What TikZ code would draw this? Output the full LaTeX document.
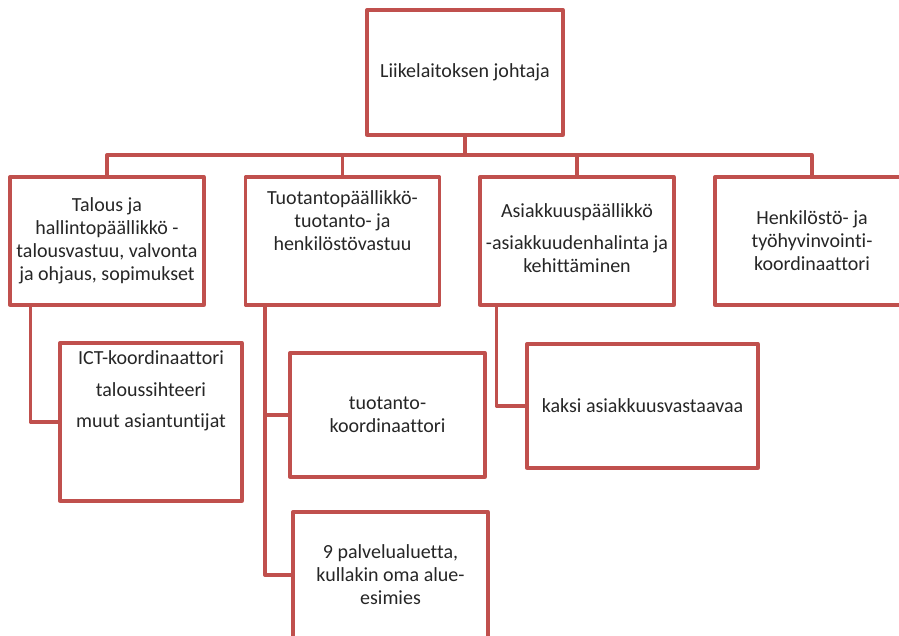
\documentclass[tikz,border=0pt]{standalone}
\usepackage{fontspec}
\setmainfont[Ligatures=NoCommon]{Carlito}
\definecolor{boxred}{RGB}{192,80,77}
\definecolor{txt}{RGB}{38,38,38}
\begin{document}
\begin{tikzpicture}[x=1pt,y=-1pt,
  box/.style={draw=boxred,line width=3.3pt,fill=white,rectangle,inner sep=0pt,
    line join=round,align=center,text=txt,font=\fontsize{20}{23}\selectfont},
  lbl/.style={inner sep=0pt,align=center,text=txt,font=\fontsize{20}{23}\selectfont},
  conn/.style={draw=boxred,line width=3.3pt,line join=round}]
\useasboundingbox (0,0) rectangle (899,636);
% top
\node[box,minimum width=196pt,minimum height=125pt] (top) at (465,72.5) {Liikelaitoksen johtaja};
% level 2
\node[box,minimum width=194pt,minimum height=128pt] (A) at (107,241) {Talous ja\\hallintopäällikkö -\\talousvastuu, valvonta\\ja ohjaus, sopimukset};
\node[box,minimum width=194pt,minimum height=128pt] (B) at (342.5,241) {};
\node[box,minimum width=194pt,minimum height=128pt] (C) at (577,241) {};
\node[box,minimum width=194pt,minimum height=128pt] (D) at (812,241) {Henkilöstö- ja\\työhyvinvointi-\\koordinaattori};
\node[lbl,anchor=north] (Bt) at (342.5,190) {Tuotantopäällikkö-\\tuotanto- ja\\henkilöstövastuu};
\node[lbl] (Ct1) at (577,212) {Asiakkuuspäällikkö};
\node[lbl,anchor=north] (Ct2) at (577,235) {-asiakkuudenhalinta ja\\kehittäminen};
% level 3
\node[box,minimum width=182pt,minimum height=158pt] (ICT) at (151,422) {};
\node[lbl] (I1) at (151,358) {ICT-koordinaattori};
\node[lbl] (I2) at (151,390) {taloussihteeri};
\node[lbl] (I3) at (151,422) {muut asiantuntijat};
\node[box,minimum width=195pt,minimum height=124pt] (tk) at (387.5,415) {tuotanto-\\koordinaattori};
\node[box,minimum width=195pt,minimum height=126pt] (pa) at (390.5,575) {};
\node[lbl] (pat) at (390.5,575) {9 palvelualuetta,\\kullakin oma alue-\\esimies};
\node[box,minimum width=231pt,minimum height=124pt] (ka) at (642.5,406) {kaksi asiakkuusvastaavaa};
% connectors
\coordinate (bus) at (465,155);
\draw[conn] (top.south) -- (bus);
\draw[conn] (A.north) -- (A.north |- bus) -- (D.north |- bus) -- (D.north);
\draw[conn] (B.north) -- (B.north |- bus);
\draw[conn] (C.north) -- (C.north |- bus);
\coordinate (aL) at ([xshift=22pt]A.south west);
\draw[conn] (aL) |- (ICT.west);
\coordinate (bL) at ([xshift=21pt]B.south west);
\draw[conn] (bL) |- (tk.west);
\draw[conn] (bL) |- (pa.west);
\coordinate (cL) at ([xshift=18pt]C.south west);
\draw[conn] (cL) |- (ka.west);
\end{tikzpicture}
\end{document}
